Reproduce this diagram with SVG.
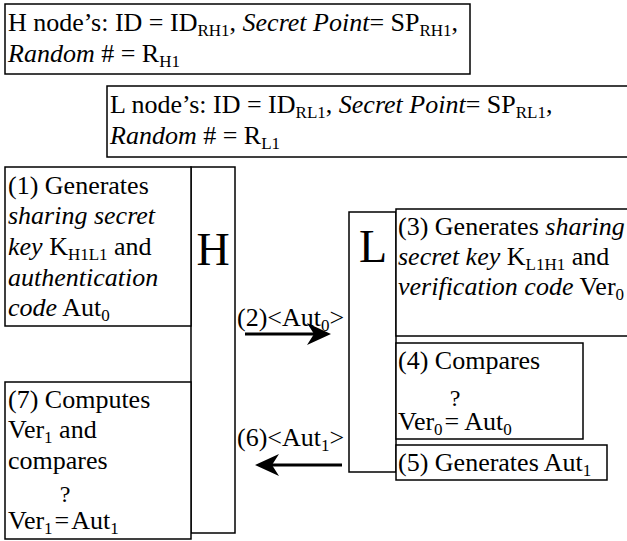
<svg xmlns="http://www.w3.org/2000/svg" width="627" height="541" viewBox="0 0 627 541">
<style>
rect{fill:#fff;stroke:#000;stroke-width:1.5}
text{font-family:"Liberation Serif","Times New Roman",serif;font-size:26px;fill:#000}
.big{font-size:46px}
.s{font-size:17px}
.q{font-size:24px}
.i{font-style:italic}
.c{stroke:#000;stroke-width:3;fill:none}
</style>
<defs>
<marker id="ah" viewBox="0 0 24 22" refX="16" refY="11" markerWidth="24" markerHeight="22" orient="auto" markerUnits="userSpaceOnUse">
<path d="M0,0 L24,11 L0,22 L7,11 z" fill="#000"/>
</marker>
</defs>
<g id="hinfo">
<rect x="5" y="4" width="465" height="70"/>
<text x="8" y="31">H node’s: ID = ID<tspan class="s" dy="5">RH1</tspan><tspan dy="-5">, </tspan><tspan class="i">Secret Point</tspan>= SP<tspan class="s" dy="5">RH1</tspan><tspan dy="-5">,</tspan></text>
<text x="8" y="62"><tspan class="i">Random</tspan> # = R<tspan class="s" dy="5">H1</tspan></text>
</g>
<g id="linfo">
<rect x="107" y="86" width="530" height="71"/>
<text x="110" y="113">L node’s: ID = ID<tspan class="s" dy="5">RL1</tspan><tspan dy="-5">, </tspan><tspan class="i">Secret Point</tspan>= SP<tspan class="s" dy="5">RL1</tspan><tspan dy="-5">,</tspan></text>
<text x="110" y="144"><tspan class="i">Random</tspan> # = R<tspan class="s" dy="5">L1</tspan></text>
</g>
<g id="Hbar">
<rect x="191" y="167" width="44" height="366"/>
<text class="big" x="213" y="265" text-anchor="middle">H</text>
</g>
<g id="step1">
<rect x="5" y="167" width="186" height="159"/>
<text x="8" y="194">(1) Generates</text>
<text x="8" y="224" class="i">sharing secret</text>
<text x="8" y="255"><tspan class="i">key</tspan> K<tspan class="s" dy="5">H1L1</tspan><tspan dy="-5"> and</tspan></text>
<text x="8" y="286" class="i">authentication</text>
<text x="8" y="316"><tspan class="i">code</tspan> Aut<tspan class="s" dy="5">0</tspan></text>
</g>
<g id="step7">
<rect x="5" y="382" width="186" height="157"/>
<text x="8" y="408">(7) Computes</text>
<text x="8" y="438">Ver<tspan class="s" dy="5">1</tspan><tspan dy="-5"> and</tspan></text>
<text x="8" y="469">compares</text>
<text class="q" x="65" y="502" text-anchor="middle">?</text>
<text x="8" y="529">Ver<tspan class="s" dy="5">1</tspan><tspan dx="2" dy="-5">=</tspan><tspan dx="2">Aut</tspan><tspan class="s" dy="5">1</tspan></text>
</g>
<g id="Lbar">
<rect x="349" y="212" width="47" height="260"/>
<text class="big" x="373" y="262" text-anchor="middle">L</text>
</g>
<g id="step3">
<rect x="396" y="209" width="240" height="127"/>
<text x="398" y="235">(3) Generates <tspan class="i">sharing</tspan></text>
<text x="398" y="265"><tspan class="i">secret key</tspan> K<tspan class="s" dy="5">L1H1</tspan><tspan dy="-5"> and</tspan></text>
<text x="398" y="295"><tspan class="i">verification code</tspan> Ver<tspan class="s" dy="5">0</tspan></text>
</g>
<g id="step4">
<rect x="396" y="343" width="187" height="96"/>
<text x="398" y="369">(4) Compares</text>
<text class="q" x="455" y="406" text-anchor="middle">?</text>
<text x="398" y="430">Ver<tspan class="s" dy="5">0</tspan><tspan dx="2" dy="-5">= Aut</tspan><tspan class="s" dy="5">0</tspan></text>
</g>
<g id="step5">
<rect x="396" y="445" width="211" height="35"/>
<text x="398" y="471">(5) Generates Aut<tspan class="s" dy="5">1</tspan></text>
</g>
<g id="connectors">
<line class="c" x1="245" y1="334" x2="323" y2="334" marker-end="url(#ah)"/>
<text x="237" y="326">(2)&lt;Aut<tspan class="s" dy="5">0</tspan><tspan dy="-5">&gt;</tspan></text>
<line class="c" x1="342" y1="465" x2="263" y2="465" marker-end="url(#ah)"/>
<text x="237" y="446">(6)&lt;Aut<tspan class="s" dy="5">1</tspan><tspan dy="-5">&gt;</tspan></text>
</g>
</svg>
